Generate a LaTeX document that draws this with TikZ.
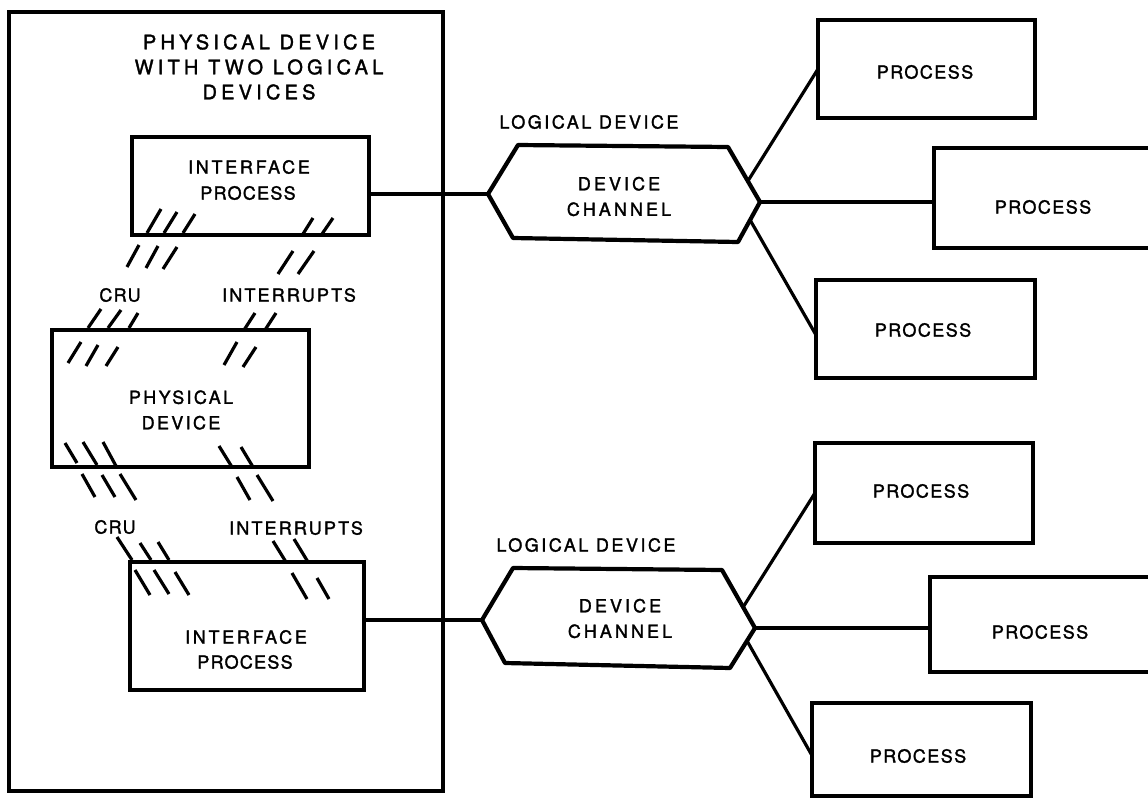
\documentclass[tikz,border=0pt]{standalone}
\usepackage{fontspec}
\setmainfont{TeX Gyre Heros}[FakeBold=1.6]
\usetikzlibrary{calc}
\begin{document}
\begin{tikzpicture}[x=1pt,y=-1pt,
  box/.style={draw,line width=4.2pt,inner sep=0pt,outer sep=0pt},
  outerbox/.style={draw,line width=3.4pt},
  txt/.style={font=\fontsize{18}{25.5}\selectfont\addfontfeature{LetterSpace=#1},align=center,inner sep=0pt},
  txt/.default=8,
  titletxt/.style={font=\fontsize{20}{25}\selectfont\addfontfeature{LetterSpace=21},align=center,inner sep=0pt},
  conn/.style={line width=3.2pt},
  hatch/.style={line width=3.2pt},
  hexa/.style={line width=4.2pt,line join=round}]
\useasboundingbox (0,0) rectangle (1148,798);
\fill[white] (0,0) rectangle (1148,798);

% outer physical device box
\node[outerbox,minimum width=434pt,minimum height=779pt,inner sep=0pt] (outer) at (226,401.5) {};
\node[titletxt] (title) at (259,67) {PHYSICAL DEVICE\\WITH TWO LOGICAL\\DEVICES};

% inner boxes
\node[box,minimum width=237pt,minimum height=98pt] (ip1) at (250.5,186) {};
\node[txt=15] (ip1a) at (249,167) {INTERFACE};
\node[txt=7] (ip1b) at (248,193) {PROCESS};
\node[box,minimum width=257pt,minimum height=137pt] (pd) at (180.5,398.5) {};
\node[txt=13] (pdt) at (181,410) {PHYSICAL\\DEVICE};
\node[box,minimum width=234pt,minimum height=128pt] (ip2) at (247,626) {};
\node[txt=15] (ip2a) at (246,637) {INTERFACE};
\node[txt=7] (ip2b) at (245,662) {PROCESS};

% labels
\node[txt=7] (cru1) at (120,295) {CRU};
\node[txt=12] (int1) at (289,295) {INTERRUPTS};
\node[txt=7] (cru2) at (115,527) {CRU};
\node[txt=12] (int2) at (296,528) {INTERRUPTS};

% hatches top interface box
\draw[hatch] (147,233)--(161,209) (164,233)--(177,212) (183,233)--(195,214)
             (303,234)--(313,218) (322,234)--(333,218);
\draw[hatch] (127,267)--(139,245) (146,268)--(158,246) (163,269)--(177,247)
             (278,274)--(293,251) (298,274)--(314,251);
\draw[hatch] (88,328)--(101,309) (108,328)--(121,310) (129,328)--(138,313)
             (244,330)--(255,313) (265,330)--(276,313);
\draw[hatch] (68,363)--(81,342) (86,366)--(98,345) (106,366)--(118,347)
             (224,365)--(237,342) (243,367)--(256,347);
% hatches lower side
\draw[hatch] (65,443)--(77,463) (83,442)--(97,465) (103,442)--(116,466)
             (219,446)--(232,467) (241,447)--(253,467);
\draw[hatch] (82,474)--(95,497) (102,475)--(115,497) (120,474)--(136,500)
             (237,477)--(250,500) (257,475)--(273,501);
\draw[hatch] (117,537)--(132,560) (140,543)--(151,560) (158,542)--(169,560)
             (273,541)--(286,562) (294,539)--(308,562);
\draw[hatch] (135,570)--(150,595) (154,570)--(169,594) (175,572)--(189,595)
             (292,573)--(307,599) (317,578)--(329,599);

% hexagon 1
\coordinate (h1l) at (488,194);
\coordinate (h1tl) at (518,145);
\coordinate (h1tr) at (728,147);
\coordinate (h1r) at (760,202);
\coordinate (h1br) at (738,242);
\coordinate (h1bl) at (513,238);
\draw[hexa] (h1l)--(h1tl)--(h1tr)--(h1r)--(h1br)--(h1bl)--cycle;
\node[txt=17] (dc1) at (619,196.5) {DEVICE\\CHANNEL};
\node[txt=14] (ld1) at (589,122) {LOGICAL DEVICE};

% hexagon 2
\coordinate (h2l) at (482,620);
\coordinate (h2tl) at (513,568);
\coordinate (h2tr) at (722,570);
\coordinate (h2r) at (755,628);
\coordinate (h2br) at (730,668);
\coordinate (h2bl) at (505,663);
\draw[hexa] (h2l)--(h2tl)--(h2tr)--(h2r)--(h2br)--(h2bl)--cycle;
\node[txt=17] (dc2) at (620,618.5) {DEVICE\\CHANNEL};
\node[txt=14] (ld2) at (586,545) {LOGICAL DEVICE};

% process boxes
\node[box,minimum width=217pt,minimum height=98pt] (p1) at (926.5,69) {};
\node[txt] at (925,72) {PROCESS};
\node[box,minimum width=218pt,minimum height=100pt] (p2) at (1043,198) {};
\node[txt] at (1043,207) {PROCESS};
\node[box,minimum width=219pt,minimum height=98pt] (p3) at (925.5,329) {};
\node[txt] at (923,330) {PROCESS};
\node[box,minimum width=218pt,minimum height=100pt] (p4) at (924,493) {};
\node[txt] at (921,491) {PROCESS};
\node[box,minimum width=220pt,minimum height=95pt] (p5) at (1040,624.5) {};
\node[txt] at (1040,632) {PROCESS};
\node[box,minimum width=219pt,minimum height=93pt] (p6) at (921.5,749.5) {};
\node[txt] at (918,756) {PROCESS};

% connectors
\draw[conn] (h1l -| ip1.east) -- (h1l);
\draw[conn] ($(h1tr)!0.62!(h1r)$) -- (p1.west);
\draw[conn] (h1r) -- (h1r -| p2.west);
\draw[conn] ($(h1r)!0.45!(h1br)$) -- ([yshift=-6pt]p3.west);
\draw[conn] (h2l -| ip2.east) -- (h2l);
\draw[conn] ($(h2tr)!0.64!(h2r)$) -- (p4.west);
\draw[conn] (h2r) -- (h2r -| p5.west);
\draw[conn] ($(h2r)!0.32!(h2br)$) -- ([yshift=-6pt]p6.west);
\end{tikzpicture}
\end{document}
